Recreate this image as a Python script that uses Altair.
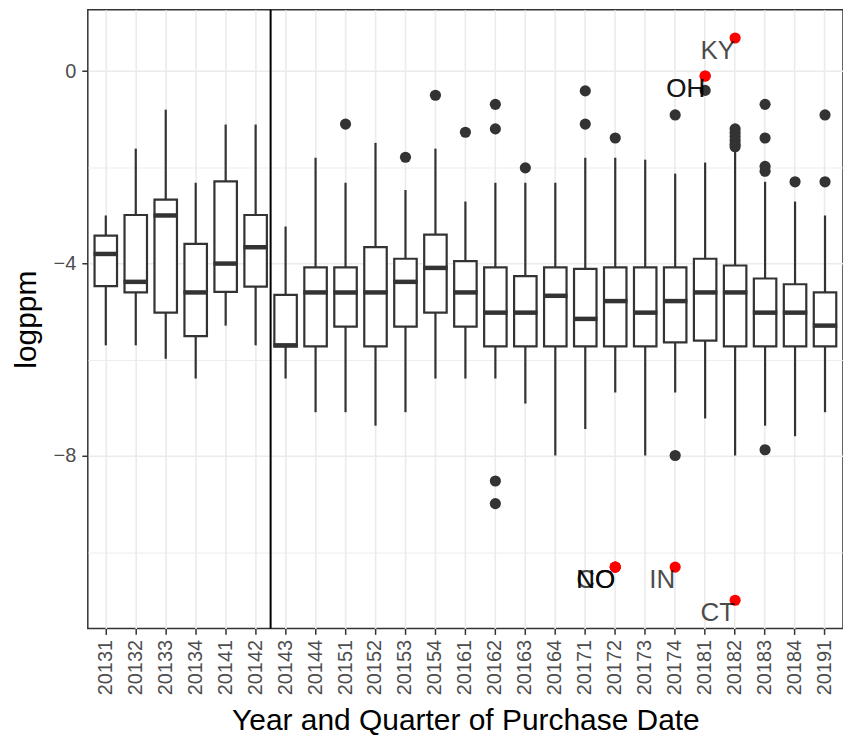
import altair as alt
import pandas as pd

# ---------------- data ----------------
quarters = ["20131", "20132", "20133", "20134", "20141", "20142", "20143", "20144",
            "20151", "20152", "20153", "20154", "20161", "20162", "20163", "20164",
            "20171", "20172", "20173", "20174", "20181", "20182", "20183", "20184",
            "20191"]

whisker_low = [-5.70, -5.70, -5.98, -6.39, -5.29, -5.70, -6.39, -7.09,
               -7.09, -7.37, -7.09, -6.39, -6.39, -6.39, -6.91, -7.99,
               -7.44, -6.68, -7.99, -6.68, -7.22, -7.99, -7.37, -7.59,
               -7.09]
q1 = [-4.47, -4.60, -5.02, -5.51, -4.59, -4.48, -5.72, -5.72,
      -5.31, -5.72, -5.31, -5.02, -5.31, -5.72, -5.72, -5.72,
      -5.72, -5.72, -5.72, -5.64, -5.60, -5.72, -5.72, -5.72,
      -5.72]
median = [-3.80, -4.38, -3.00, -4.60, -4.00, -3.66, -5.70, -4.60,
          -4.60, -4.60, -4.38, -4.09, -4.60, -5.02, -5.02, -4.67,
          -5.15, -4.78, -5.02, -4.78, -4.60, -4.60, -5.02, -5.02,
          -5.29]
q3 = [-3.42, -2.99, -2.67, -3.59, -2.29, -2.99, -4.65, -4.08,
      -4.08, -3.66, -3.90, -3.40, -3.95, -4.08, -4.26, -4.08,
      -4.11, -4.08, -4.08, -4.08, -3.90, -4.04, -4.31, -4.43,
      -4.60]
whisker_high = [-3.00, -1.61, -0.80, -2.32, -1.11, -1.11, -3.23, -1.80,
                -2.32, -1.49, -2.47, -1.61, -2.71, -2.32, -2.32, -2.32,
                -1.80, -1.80, -1.84, -2.13, -1.90, -1.65, -2.30, -2.71,
                -3.00]

outlier_quarter = ["20151", "20153", "20154", "20161",
                   "20162", "20162", "20162", "20162",
                   "20163", "20171", "20171", "20172",
                   "20174", "20174", "20181",
                   "20182", "20182", "20182", "20182", "20182", "20182",
                   "20183", "20183", "20183", "20183", "20183",
                   "20184", "20191", "20191"]
outlier_value = [-1.10, -1.79, -0.50, -1.27,
                 -0.69, -1.20, -8.52, -8.99,
                 -2.01, -0.41, -1.10, -1.39,
                 -0.91, -7.99, -0.40,
                 -1.20, -1.28, -1.36, -1.44, -1.52, -1.57,
                 -0.69, -1.39, -1.98, -2.08, -7.87,
                 -2.30, -0.91, -2.30]

flag_state = ["KY", "OH", "OH", "CO", "NO", "NO", "IN", "CT"]
flag_quarter = ["20182", "20181", "20181", "20172", "20172", "20172", "20174", "20182"]
flag_value = [0.69, -0.10, -0.10, -10.31, -10.31, -10.31, -10.31, -11.00]

divider_after = ["20142"]

y_ticks = [-10, -8, -6, -4, -2, 0]

# ---------------- tables ----------------
boxes = pd.DataFrame({"quarter": quarters, "lo": whisker_low, "q1": q1,
                      "med": median, "q3": q3, "hi": whisker_high})
outliers = pd.DataFrame({"quarter": outlier_quarter, "v": outlier_value})
flags = pd.DataFrame({"quarter": flag_quarter, "v": flag_value, "state": flag_state})
divider = pd.DataFrame({"quarter": divider_after})

all_vals = whisker_low + whisker_high + outlier_value + flag_value
lo_v, hi_v = min(all_vals), max(all_vals)
ext = 0.05 * (hi_v - lo_v)

FONT = "Liberation Sans"
INK = "#333333"

xscale = alt.Scale(domain=quarters, paddingInner=0, paddingOuter=0.1)
yscale = alt.Scale(domain=[lo_v - ext, hi_v + ext], nice=False, zero=False)

x_axis = alt.Axis(labelAngle=270, title="Year and Quarter of Purchase Date",
                  titlePadding=11, labelPadding=5)
y_axis = alt.Axis(
    values=y_ticks, title="logppm", titlePadding=12, labelPadding=6,
    labelExpr="datum.value % 4 == 0 ? (datum.value < 0 ? '\u2212' + abs(datum.value) : '' + datum.value) : ''",
    tickColor={"condition": {"test": "datum.value % 4 == 0", "value": INK}, "value": "transparent"},
    gridWidth={"condition": {"test": "datum.value % 4 == 0", "value": 1.6}, "value": 0.9},
)


def X(**kw):
    return alt.X("quarter:N", scale=xscale, sort=quarters, axis=x_axis,
                 title="Year and Quarter of Purchase Date", **kw)


def Y(field):
    return alt.Y(field, type="quantitative", scale=yscale, axis=y_axis, title="logppm")


whisk_up = alt.Chart(boxes).mark_rule(color=INK, strokeWidth=2.2).encode(
    x=X(), y=Y("q3"), y2="hi")
whisk_dn = alt.Chart(boxes).mark_rule(color=INK, strokeWidth=2.2).encode(
    x=X(), y=Y("lo"), y2="q1")
box = alt.Chart(boxes).mark_bar(width=alt.RelativeBandSize(0.75), fill="white",
                                stroke=INK, strokeWidth=2.2, opacity=1).encode(
    x=X(), y=Y("q1"), y2="q3")
med = alt.Chart(boxes).mark_tick(color=INK, thickness=4.5, size=24.5, opacity=1).encode(
    x=X(), y=Y("med"))
outs = alt.Chart(outliers).mark_circle(size=125, color=INK, opacity=1).encode(
    x=X(), y=Y("v"))
vline = alt.Chart(divider).mark_rule(color="black", strokeWidth=2).encode(
    x=X(bandPosition=1))
red = alt.Chart(flags).mark_circle(size=125, color="red", opacity=1).encode(
    x=X(), y=Y("v"))
labels = alt.Chart(flags).mark_text(align="right", baseline="top", font=FONT,
                                    fontSize=26, color="black", opacity=0.7).encode(
    x=X(), y=Y("v"), text="state:N")

chart = alt.layer(whisk_up, whisk_dn, box, med, outs, vline, red, labels).properties(
    width=757, height=620,
    padding={"left": 3, "top": 0, "right": 0, "bottom": 0},
).configure_view(
    stroke=INK, strokeWidth=1.5
).configure_axis(
    domain=False, grid=True, gridColor="#EBEBEB", gridWidth=1.6,
    tickColor=INK, tickWidth=1.5, tickSize=6,
    labelColor="#4D4D4D", labelFont=FONT, labelFontSize=20,
    titleFont=FONT, titleFontSize=30, titleColor="black", titleFontWeight="normal",
)

chart.save("out.html", embed_options={"renderer": "svg", "actions": False})
